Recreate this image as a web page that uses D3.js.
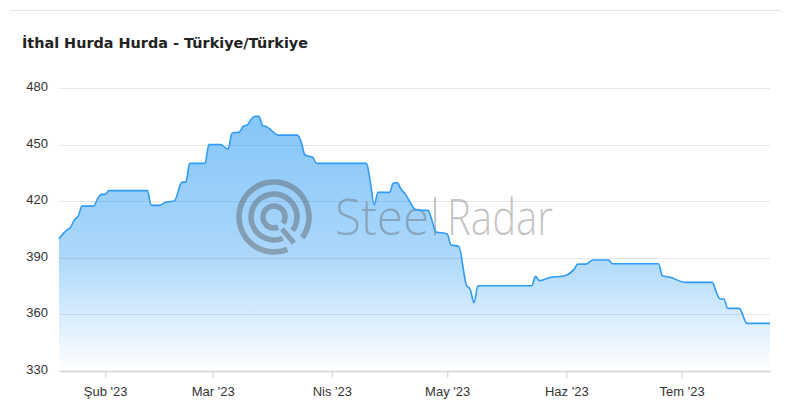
<!DOCTYPE html>
<html>
<head>
<meta charset="utf-8">
<script src="https://cdn.jsdelivr.net/npm/d3@7"></script>
<style>
  html, body { margin: 0; padding: 0; background: #fff; }
  svg { display: block; font-family: "Liberation Sans", Arial, sans-serif; }
</style>
</head>
<body>
<script>
const dates = [
  '2023-01-20', '2023-01-22', '2023-01-23', '2023-01-24', '2023-01-25', '2023-01-26',
  '2023-01-29', '2023-01-30', '2023-01-31', '2023-02-01', '2023-02-02', '2023-02-12',
  '2023-02-13', '2023-02-15', '2023-02-17', '2023-02-19', '2023-02-21', '2023-02-22',
  '2023-02-23', '2023-02-27', '2023-02-28', '2023-03-03', '2023-03-05', '2023-03-06',
  '2023-03-08', '2023-03-09', '2023-03-10', '2023-03-11', '2023-03-12', '2023-03-13',
  '2023-03-14', '2023-03-15', '2023-03-16', '2023-03-18', '2023-03-23', '2023-03-24',
  '2023-03-25', '2023-03-27', '2023-03-28', '2023-04-10', '2023-04-11', '2023-04-12',
  '2023-04-13', '2023-04-16', '2023-04-17', '2023-04-18', '2023-04-19', '2023-04-20',
  '2023-04-23', '2023-04-26', '2023-04-27', '2023-04-28', '2023-05-01', '2023-05-02',
  '2023-05-04', '2023-05-06', '2023-05-07', '2023-05-08', '2023-05-09', '2023-05-23',
  '2023-05-24', '2023-05-25', '2023-05-28', '2023-05-31', '2023-06-03', '2023-06-04',
  '2023-06-06', '2023-06-08', '2023-06-12', '2023-06-13', '2023-06-25', '2023-06-26',
  '2023-06-28', '2023-07-02', '2023-07-09', '2023-07-10', '2023-07-11', '2023-07-12',
  '2023-07-13', '2023-07-16', '2023-07-18', '2023-07-24'
];
const prices = [
  400, 404.5, 406, 410, 412, 417.3,
  417.3, 421, 423.5, 423.5, 425.5, 425.5,
  417.7, 417.7, 419.5, 420, 430, 430,
  440, 440, 450, 450, 447.6, 456,
  456.8, 459.8, 460.4, 463.4, 465, 465,
  460, 459.5, 458, 455, 455, 451.5,
  444.4, 443.2, 440, 440, 430.3, 418,
  424.6, 424.6, 429.5, 429.7, 426.2, 424,
  415.2, 415, 410, 403.7, 402.5, 396.6,
  396, 375.4, 373, 366, 375, 375,
  380, 377.7, 379.5, 380, 383.7, 386.5,
  386.5, 388.7, 388.7, 386.7, 386.7, 380.3,
  379.5, 376.8, 376.8, 371.8, 368, 368,
  363, 363, 355, 355
];
const yTicks = [330, 360, 390, 420, 450, 480];
const monthTicks = ['2023-02-01', '2023-03-01', '2023-04-01', '2023-05-01', '2023-06-01', '2023-07-01'];
const monthLabels = ["Şub '23", "Mar '23", "Nis '23", "May '23", "Haz '23", "Tem '23"];

const width = 800;
const height = 413;
const plotLeft = 59, plotRight = 770, plotTop = 88, plotBottom = 370.5;

const parse = d3.utcParse('%Y-%m-%d');
const data = dates.map((d, i) => ({ date: parse(d), value: prices[i] }));

const x = d3.scaleUtc()
  .domain([parse('2023-01-20'), parse('2023-07-24')])
  .range([plotLeft, plotRight]);
const y = d3.scaleLinear()
  .domain([330, 480])
  .range([plotBottom, plotTop]);

const svg = d3.select('body').append('svg')
  .attr('width', width)
  .attr('height', height);

// top divider
svg.append('line')
  .attr('x1', 10).attr('x2', 781)
  .attr('y1', 10.5).attr('y2', 10.5)
  .attr('stroke', '#e3e3e3');

svg.append('text')
  .attr('x', 22).attr('y', 48)
  .attr('font-family', '"DejaVu Sans", Verdana, sans-serif')
  .attr('font-size', 14)
  .attr('font-weight', 'bold')
  .attr('fill', '#222')
  .attr('textLength', 286)
  .attr('lengthAdjust', 'spacingAndGlyphs')
  .text('İthal Hurda Hurda - Türkiye/Türkiye');

const defs = svg.append('defs');
const grad = defs.append('linearGradient')
  .attr('id', 'fillGrad')
  .attr('gradientUnits', 'userSpaceOnUse')
  .attr('x1', 0).attr('x2', 0)
  .attr('y1', plotTop).attr('y2', plotBottom);
[[0, 0.58], [0.22, 0.51], [0.6, 0.37], [1, 0.0]].forEach(s => {
  grad.append('stop')
    .attr('offset', s[0])
    .attr('stop-color', 'rgb(33,150,243)')
    .attr('stop-opacity', s[1]);
});

// gridlines
svg.append('g')
  .selectAll('line')
  .data(yTicks.slice(1))
  .enter()
  .append('line')
  .attr('x1', plotLeft).attr('x2', plotRight)
  .attr('y1', d => Math.round(y(d)) + 0.5)
  .attr('y2', d => Math.round(y(d)) + 0.5)
  .attr('stroke', '#e6e6e6');

const area = d3.area()
  .x(d => x(d.date))
  .y0(y(330))
  .y1(d => y(d.value))
  .curve(d3.curveMonotoneX);

const line = d3.line()
  .x(d => x(d.date))
  .y(d => y(d.value))
  .curve(d3.curveMonotoneX);

svg.append('path')
  .datum(data)
  .attr('d', area)
  .attr('fill', 'url(#fillGrad)');

// watermark
const wm = svg.append('g').attr('opacity', 0.42);
const cx = 274, cy = 217;
[35, 23, 11].forEach(r => {
  wm.append('path')
    .attr('transform', `translate(${cx},${cy})`)
    .attr('d', d3.arc()({ innerRadius: r - 2.8, outerRadius: r + 2.8,
      startAngle: 2.75, endAngle: 2.2 + 2 * Math.PI }))
    .attr('fill', '#555');
});
wm.append('line')
  .attr('x1', cx + 8).attr('y1', cy + 12)
  .attr('x2', cx + 20).attr('y2', cy + 26)
  .attr('stroke', '#555').attr('stroke-width', 5);
const wmFont = '"Open Sans", "Noto Sans", sans-serif';
[['Stee', 335, 94, '#666'], ['l', 432, 6, '#333'], ['Radar', 447, 106, '#777']].forEach(p => {
  wm.append('text')
    .attr('x', p[1]).attr('y', 235)
    .attr('font-family', wmFont)
    .attr('font-weight', 300)
    .attr('font-size', 49)
    .attr('fill', p[3])
    .attr('textLength', p[2])
    .attr('lengthAdjust', 'spacingAndGlyphs')
    .text(p[0]);
});

svg.append('path')
  .datum(data)
  .attr('d', line)
  .attr('fill', 'none')
  .attr('stroke', '#2f9bf5')
  .attr('stroke-width', 1.6);

const xAxis = d3.axisBottom(x)
  .tickValues(monthTicks.map(parse))
  .tickFormat((d, i) => monthLabels[i])
  .tickSize(7)
  .tickSizeOuter(0)
  .tickPadding(9);

const gx = svg.append('g')
  .attr('transform', 'translate(0,' + Math.round(plotBottom) + ')')
  .call(xAxis);
gx.select('.domain').attr('stroke', '#dcdcdc').attr('stroke-width', 2);
gx.selectAll('.tick line').attr('stroke', '#dcdcdc').attr('stroke-width', 1.5);
gx.selectAll('.tick text')
  .attr('font-size', 13)
  .attr('font-family', '"Liberation Sans", Arial, sans-serif')
  .attr('fill', '#333');

const yAxis = d3.axisLeft(y)
  .tickValues(yTicks)
  .tickSize(0)
  .tickPadding(11);

const gy = svg.append('g')
  .attr('transform', 'translate(' + plotLeft + ',0)')
  .call(yAxis);
gy.select('.domain').remove();
gy.selectAll('.tick text')
  .attr('font-size', 13)
  .attr('font-family', '"Liberation Sans", Arial, sans-serif')
  .attr('fill', '#333')
  .attr('dy', '0.2em');
</script>
</body>
</html>
